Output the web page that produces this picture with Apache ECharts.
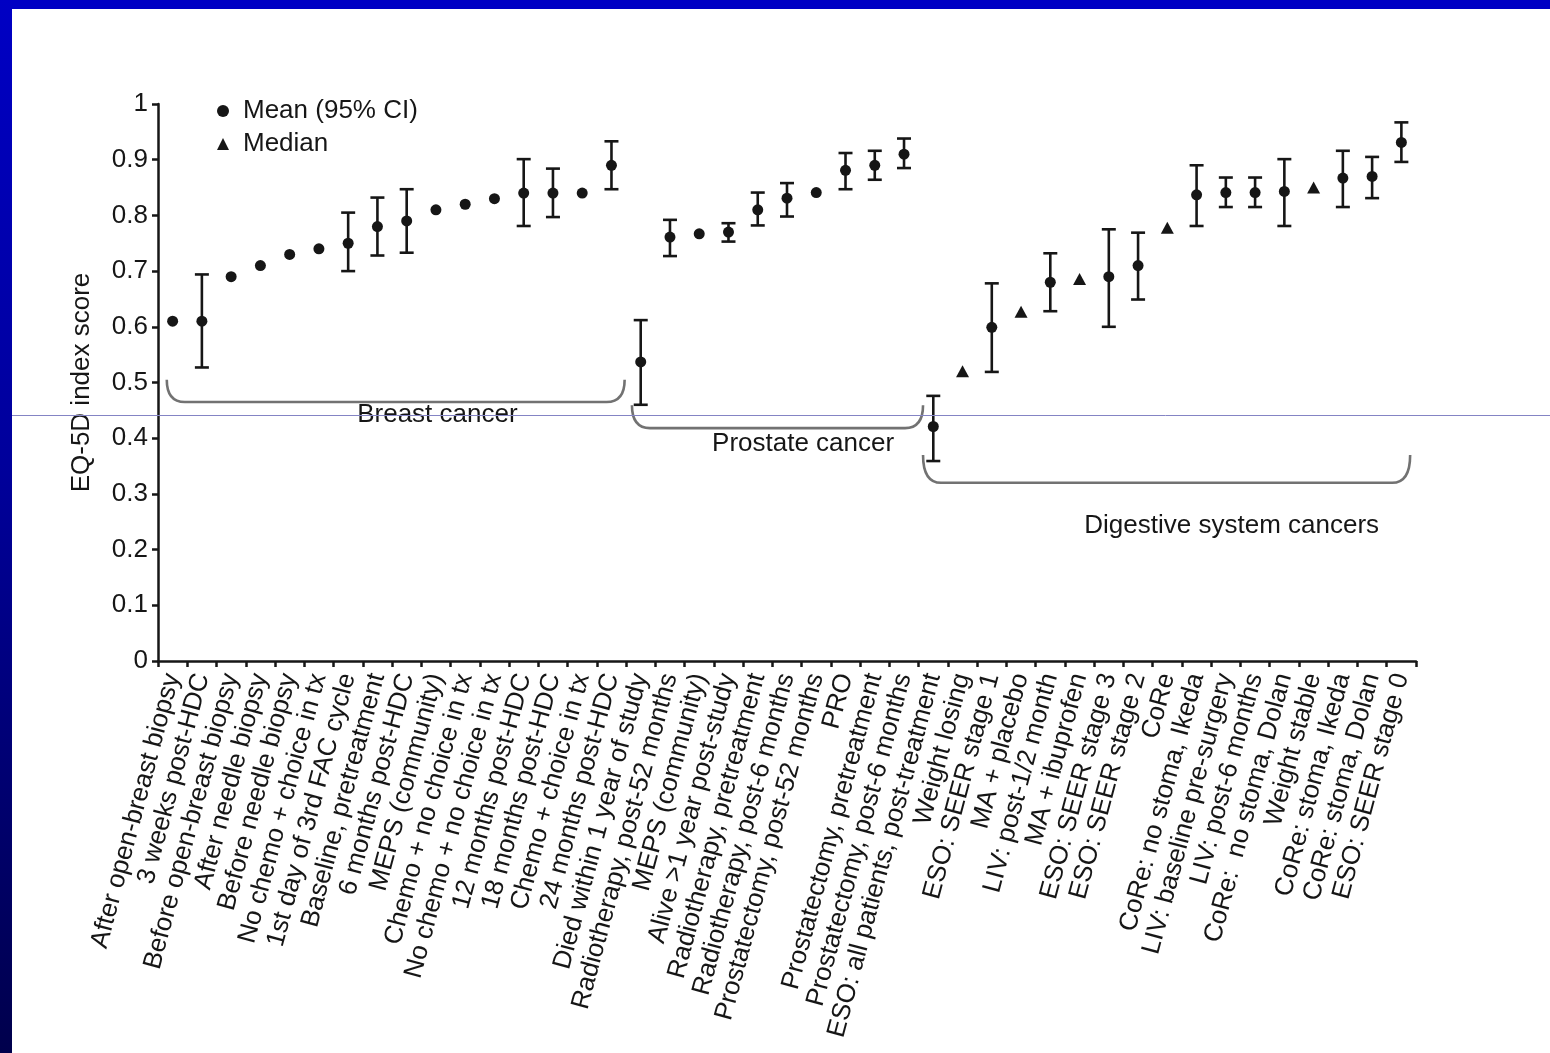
<!DOCTYPE html>
<html>
<head>
<meta charset="utf-8">
<title>EQ-5D index scores by cancer type</title>
<script src="https://cdn.jsdelivr.net/npm/echarts@6/dist/echarts.min.js"></script>
<style>
  html, body { margin: 0; padding: 0; background: #ffffff; }
  #chart { width: 1550px; height: 1053px; }
</style>
</head>
<body>
<div id="chart"></div>
<script>
// Health states / study groups, in plotting order
const categories = [
  'After open-breast biopsy', '3 weeks post-HDC', 'Before open-breast biopsy', 'After needle biopsy',
  'Before needle biopsy', 'No chemo + choice in tx', '1st day of 3rd FAC cycle', 'Baseline, pretreatment',
  '6 months post-HDC', 'MEPS (community)', 'Chemo + no choice in tx', 'No chemo + no choice in tx',
  '12 months post-HDC', '18 months post-HDC', 'Chemo + choice in tx', '24 months post-HDC',
  'Died within 1 year of study', 'Radiotherapy, post-52 months', 'MEPS (community)', 'Alive >1 year post-study',
  'Radiotherapy, pretreatment', 'Radiotherapy, post-6 months', 'Prostatectomy, post-52 months', 'PRO',
  'Prostatectomy, pretreatment', 'Prostatectomy, post-6 months',
  'ESO: all patients, post-treatment', 'Weight losing', 'ESO: SEER stage 1', 'MA + placebo',
  'LIV: post-1/2 month', 'MA + ibuprofen', 'ESO: SEER stage 3', 'ESO: SEER stage 2', 'CoRe',
  'CoRe: no stoma, Ikeda', 'LIV: baseline pre-surgery', 'LIV: post-6 months', 'CoRe:  no stoma, Dolan',
  'Weight stable', 'CoRe: stoma, Ikeda', 'CoRe: stoma, Dolan', 'ESO: SEER stage 0'
];

// Mean EQ-5D index score (null where only a median is reported)
const meanValues = [
  0.61, 0.61, 0.69, 0.71, 0.73, 0.74, 0.75, 0.78, 0.79, 0.81, 0.82, 0.83, 0.84, 0.84, 0.84, 0.89,
  0.537, 0.761, 0.767, 0.77, 0.81, 0.831, 0.841, 0.881, 0.89, 0.91,
  0.421, null, 0.599, null, 0.68, null, 0.69, 0.71, null, 0.837, 0.841, 0.841, 0.843, null, 0.867, 0.87, 0.931
];

// Median EQ-5D index score (reported instead of a mean)
const medianValues = [
  null, null, null, null, null, null, null, null, null, null, null, null, null, null, null, null,
  null, null, null, null, null, null, null, null, null, null,
  null, 0.52, null, 0.627, null, 0.686, null, null, 0.778, null, null, null, null, 0.85, null, null, null
];

// 95% confidence interval bounds (null where not reported)
const ciLower = [
  null, 0.527, null, null, null, null, 0.70, 0.728, 0.733, null, null, null, 0.781, 0.797, null, 0.847,
  0.46, 0.727, null, 0.753, 0.782, 0.798, null, 0.847, 0.864, 0.885,
  0.359, null, 0.519, null, 0.628, null, 0.60, 0.649, null, 0.781, 0.815, 0.815, 0.781, null, 0.815, 0.831, 0.896
];
const ciUpper = [
  null, 0.694, null, null, null, null, 0.805, 0.832, 0.847, null, null, null, 0.901, 0.884, null, 0.933,
  0.612, 0.792, null, 0.786, 0.841, 0.858, null, 0.912, 0.916, 0.938,
  0.476, null, 0.678, null, 0.732, null, 0.775, 0.769, null, 0.89, 0.868, 0.868, 0.901, null, 0.916, 0.905, 0.967
];

// Cancer-group brackets: span in category units, bracket level and tip level (index score)
const groupNames = ['Breast cancer', 'Prostate cancer', 'Digestive system cancers'];
const groupStart = [0.3, 16.2, 26.15];
const groupEnd = [15.95, 26.15, 42.8];
const groupLevel = [0.465, 0.418, 0.32];
const groupTip = [0.505, 0.459, 0.37];
const groupLabelAt = [9.55, 22.05, 36.7];
const groupLabelLevel = [0.442, 0.39, 0.243];

const yTicks = [0, 0.1, 0.2, 0.3, 0.4, 0.5, 0.6, 0.7, 0.8, 0.9, 1];

const FONT = "'Liberation Sans', Arial, Helvetica, sans-serif";
const INK = '#161616';

const meanData = [];
meanValues.forEach((v, i) => { if (v != null) meanData.push([i, v]); });
const medianData = [];
medianValues.forEach((v, i) => { if (v != null) medianData.push([i, v]); });
const ciData = [];
ciLower.forEach((lo, i) => { if (lo != null && ciUpper[i] != null) ciData.push([i, lo, ciUpper[i]]); });
const groupData = groupNames.map((n, k) => [groupStart[k], groupEnd[k], groupLevel[k], groupTip[k], groupLabelAt[k], groupLabelLevel[k]]);

const chart = echarts.init(document.getElementById('chart'), null, { renderer: 'canvas' });

const option = {
  backgroundColor: '#ffffff',
  animation: false,
  textStyle: { fontFamily: FONT },
  grid: { left: 158, right: 134, top: 104, bottom: 392, containLabel: false },
  legend: {
    orient: 'vertical',
    left: 212,
    top: 93,
    itemWidth: 12,
    itemHeight: 12,
    itemGap: 7,
    selectedMode: false,
    textStyle: { fontSize: 26, color: INK, fontFamily: FONT, padding: [0, 0, 0, 9] },
    data: [
      { name: 'Mean (95% CI)', icon: 'circle', itemStyle: { color: INK, opacity: 1 } },
      { name: 'Median', icon: 'triangle', itemStyle: { color: INK, opacity: 1 } }
    ]
  },
  xAxis: [
    {
      type: 'category',
      data: categories,
      boundaryGap: true,
      axisLine: { show: true, lineStyle: { color: INK, width: 2.5 } },
      axisTick: { show: true, interval: 0, length: 6, lineStyle: { color: INK, width: 2.5 } },
      axisLabel: {
        interval: 0,
        rotate: 75,
        margin: 13,
        fontSize: 26,
        color: INK,
        fontFamily: FONT
      },
      splitLine: { show: false }
    },
    {
      type: 'value',
      min: 0,
      max: 43,
      show: false
    }
  ],
  yAxis: {
    type: 'value',
    min: 0,
    max: 1,
    interval: 0.1,
    name: 'EQ-5D index score',
    nameLocation: 'middle',
    nameRotate: 90,
    nameGap: 63,
    nameTextStyle: { fontSize: 26, color: INK, fontFamily: FONT },
    axisLine: { show: true, lineStyle: { color: INK, width: 2.5 } },
    axisTick: { show: true, length: 6, lineStyle: { color: INK, width: 2.5 } },
    axisLabel: {
      margin: 10,
      fontSize: 26,
      color: INK,
      fontFamily: FONT,
      formatter: v => {
        const t = yTicks.find(x => Math.abs(x - v) < 1e-6);
        return String(t != null ? t : v);
      }
    },
    splitLine: { show: false }
  },
  series: [
    {
      // confidence-interval whiskers with end caps
      name: 'CI',
      type: 'custom',
      xAxisIndex: 0,
      silent: true,
      renderItem: (params, api) => {
        const i = api.value(0);
        const top = api.coord([i, api.value(2)]);
        const bot = api.coord([i, api.value(1)]);
        const cap = 7;
        const style = { stroke: INK, lineWidth: 2.6, fill: null };
        return {
          type: 'group',
          children: [
            { type: 'line', shape: { x1: top[0], y1: top[1], x2: bot[0], y2: bot[1] }, style },
            { type: 'line', shape: { x1: top[0] - cap, y1: top[1], x2: top[0] + cap, y2: top[1] }, style },
            { type: 'line', shape: { x1: bot[0] - cap, y1: bot[1], x2: bot[0] + cap, y2: bot[1] }, style }
          ]
        };
      },
      data: ciData,
      z: 3
    },
    {
      name: 'Mean (95% CI)',
      type: 'scatter',
      xAxisIndex: 0,
      symbol: 'circle',
      symbolSize: 11,
      itemStyle: { color: INK, opacity: 1 },
      data: meanData,
      z: 4
    },
    {
      name: 'Median',
      type: 'scatter',
      xAxisIndex: 0,
      symbol: 'triangle',
      symbolSize: [13, 12],
      itemStyle: { color: INK, opacity: 1 },
      data: medianData,
      z: 4
    },
    {
      // group brackets beneath each cancer type, with their captions
      name: 'Groups',
      type: 'custom',
      xAxisIndex: 1,
      silent: true,
      renderItem: (params, api) => {
        const k = params.dataIndex;
        const tipL = api.coord([api.value(0), api.value(3)]);
        const baseL = api.coord([api.value(0), api.value(2)]);
        const tipR = api.coord([api.value(1), api.value(3)]);
        const baseR = api.coord([api.value(1), api.value(2)]);
        const lab = api.coord([api.value(4), api.value(5)]);
        const bend = 18;
        const path = 'M' + tipL[0] + ' ' + tipL[1] +
          ' Q' + tipL[0] + ' ' + baseL[1] + ' ' + (tipL[0] + bend) + ' ' + baseL[1] +
          ' L' + (tipR[0] - bend) + ' ' + baseR[1] +
          ' Q' + tipR[0] + ' ' + baseR[1] + ' ' + tipR[0] + ' ' + tipR[1];
        return {
          type: 'group',
          children: [
            {
              type: 'path',
              shape: { pathData: path },
              style: { stroke: '#727272', lineWidth: 2.6, fill: null }
            },
            {
              type: 'text',
              style: {
                x: lab[0], y: lab[1],
                text: groupNames[k],
                fill: INK,
                font: '26px ' + FONT,
                textAlign: 'center',
                textVerticalAlign: 'middle'
              }
            }
          ]
        };
      },
      data: groupData,
      z: 2
    }
  ],
  graphic: [
    {
      // slide frame: top band
      type: 'rect', left: 0, top: 0, z: 100,
      shape: { width: 1550, height: 9 },
      style: { fill: '#0000c4' }
    },
    {
      // slide frame: left band, darkening towards the bottom
      type: 'rect', left: 0, top: 0, z: 100,
      shape: { width: 12, height: 1053 },
      style: {
        fill: new echarts.graphic.LinearGradient(0, 0, 0, 1, [
          { offset: 0, color: '#0000c4' },
          { offset: 0.45, color: '#00009a' },
          { offset: 1, color: '#00004c' }
        ])
      }
    },
    {
      // thin rule across the slide
      type: 'line', z: 90,
      shape: { x1: 12, y1: 415.5, x2: 1550, y2: 415.5 },
      style: { stroke: '#8484c4', lineWidth: 1 }
    }
  ]
};

chart.setOption(option);
</script>
</body>
</html>
